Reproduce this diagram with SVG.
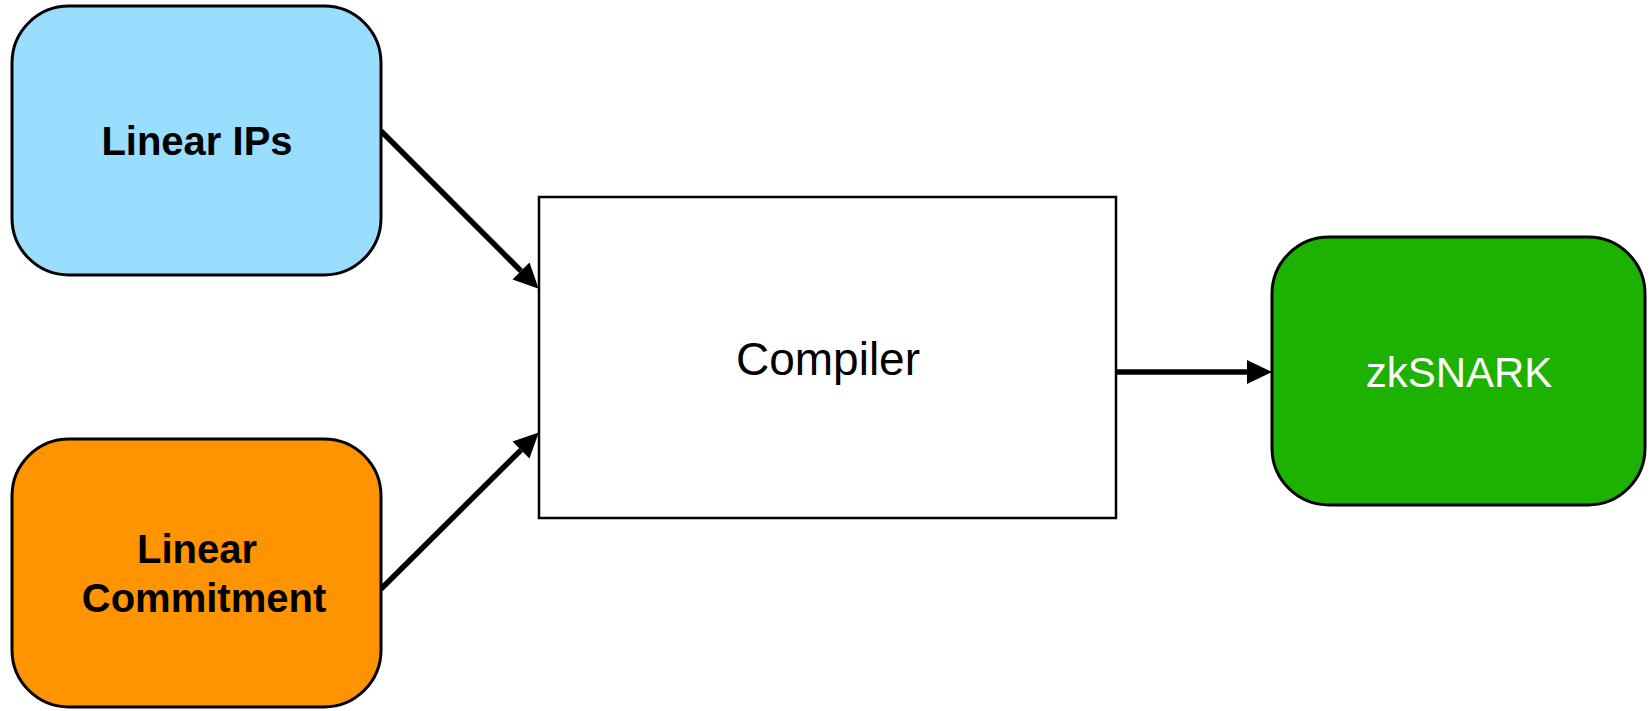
<svg xmlns="http://www.w3.org/2000/svg" width="1651" height="711" viewBox="0 0 1651 711">
  <style>
    .node { stroke: #000; stroke-width: 3; }
    .box { fill: #fff; stroke: #000; stroke-width: 2.5; }
    .label { font-family: "Liberation Sans", Arial, Helvetica, sans-serif; text-anchor: middle; }
    .bold { font-size: 40px; font-weight: bold; fill: #000; }
    .plain { font-size: 46px; font-weight: normal; fill: #000; }
    .light { font-size: 42px; font-weight: normal; fill: #fff; }
    .edge { stroke: #000; stroke-width: 5.5; fill: none; }
  </style>
  <defs>
    <!-- head base sits on the line end, tip extends 25px forward -->
    <marker id="arrow" markerUnits="userSpaceOnUse" markerWidth="27" markerHeight="26" refX="0" refY="12" orient="auto" overflow="visible">
      <path d="M0,0 L25,12 L0,24 Z" fill="#000"/>
    </marker>
  </defs>
  <rect width="1651" height="711" fill="#fff"/>

  <!-- connectors -->
  <g id="connectors">
    <line class="edge" x1="381" y1="131" x2="521" y2="271" marker-end="url(#arrow)"/>
    <line class="edge" x1="381" y1="589" x2="521" y2="450" marker-end="url(#arrow)"/>
    <line class="edge" x1="1116" y1="372" x2="1247" y2="372" marker-end="url(#arrow)"/>
  </g>

  <g id="linear-ips">
    <rect class="node" x="12" y="6" width="369" height="269" rx="57" ry="57" fill="#99DDFF"/>
    <text class="label bold" x="197" y="155">Linear IPs</text>
  </g>

  <g id="linear-commitment">
    <rect class="node" x="12" y="439" width="369" height="268" rx="57" ry="57" fill="#FF9300"/>
    <text class="label bold" x="197" y="563">Linear</text>
    <text class="label bold" x="204" y="612">Commitment</text>
  </g>

  <g id="compiler">
    <rect class="box" x="539" y="197" width="577" height="321"/>
    <text class="label plain" x="828" y="375">Compiler</text>
  </g>

  <g id="zksnark">
    <rect class="node" x="1272" y="237" width="373" height="268" rx="57" ry="57" fill="#1DB100"/>
    <text class="label light" x="1459" y="387">zkSNARK</text>
  </g>
</svg>
